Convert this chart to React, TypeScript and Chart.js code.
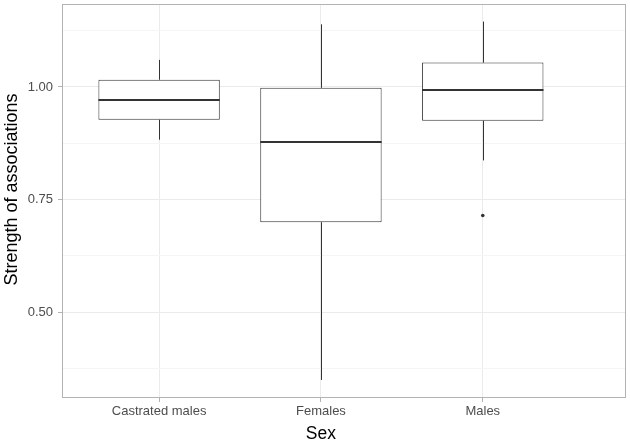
import React, { useEffect, useRef } from 'react';
import { Chart, registerables } from 'chart.js';

Chart.register(...registerables);

// ---- data ----
const categories = ['Castrated males', 'Females', 'Males'];
const whiskerLow = [0.883, 0.35, 0.837];
const q1 = [0.927, 0.7, 0.925];
const median = [0.972, 0.877, 0.993];
const q3 = [1.016, 0.998, 1.054];
const whiskerHigh = [1.06, 1.139, 1.145];
const outlierGroups = [2];
const outlierValues = [0.715];
const yMajorTicks = [0.5, 0.75, 1.0];
const yMinorTicks = [0.375, 0.625, 0.875, 1.125];
const yRange = [0.31, 1.184];
const xRange = [-0.6, 2.885];
const xTitle = 'Sex';
const yTitle = 'Strength of associations';

const FONT = "'Liberation Sans', Arial, Helvetica, sans-serif";
const LINE = '#333333';

const boxPlugin = {
  id: 'boxExtras',
  afterDatasetsDraw(chart: any) {
    const { ctx, chartArea } = chart;
    const xs = chart.scales.x;
    const ys = chart.scales.y;
    ctx.save();
    ctx.strokeStyle = LINE;
    // whiskers
    ctx.lineWidth = 1;
    categories.forEach((_, i) => {
      const px = Math.round(xs.getPixelForValue(i)) + 0.5;
      ctx.beginPath();
      ctx.moveTo(px, ys.getPixelForValue(q3[i]));
      ctx.lineTo(px, ys.getPixelForValue(whiskerHigh[i]));
      ctx.moveTo(px, ys.getPixelForValue(q1[i]));
      ctx.lineTo(px, ys.getPixelForValue(whiskerLow[i]));
      ctx.stroke();
    });
    // medians
    const meta = chart.getDatasetMeta(0);
    ctx.lineWidth = 2;
    categories.forEach((_, i) => {
      const bar = meta.data[i];
      const half = bar.width / 2;
      const py = Math.round(ys.getPixelForValue(median[i]));
      ctx.beginPath();
      ctx.moveTo(bar.x - half, py);
      ctx.lineTo(bar.x + half, py);
      ctx.stroke();
    });
    // panel border
    ctx.strokeStyle = '#B3B3B3';
    ctx.lineWidth = 1;
    ctx.strokeRect(
      chartArea.left + 0.5,
      chartArea.top + 0.5,
      chartArea.right - chartArea.left - 1,
      chartArea.bottom - chartArea.top - 1
    );
    ctx.restore();
  },
  afterDraw(chart: any) {
    const { ctx, chartArea } = chart;
    const xs = chart.scales.x;
    ctx.save();
    ctx.fillStyle = '#000000';
    ctx.textAlign = 'center';
    ctx.textBaseline = 'alphabetic';
    ctx.font = `17.5px ${FONT}`;
    ctx.fillText(xTitle, xs.getPixelForValue(1), 439);
    ctx.font = `18px ${FONT}`;
    ctx.translate(16.5, (chartArea.top + chartArea.bottom) / 2 - 11.5);
    ctx.rotate(-Math.PI / 2);
    ctx.fillText(yTitle, 0, 0);
    ctx.restore();
  },
};

export default function App() {
  const canvasRef = useRef<HTMLCanvasElement | null>(null);

  useEffect(() => {
    document.body.style.margin = '0';
    const canvas = canvasRef.current;
    if (!canvas) return;
    const allY = [...yMajorTicks, ...yMinorTicks].sort((a, b) => a - b);
    const isMajor = (v: number) => yMajorTicks.some((m) => Math.abs(m - v) < 1e-9);

    const chart = new Chart(canvas, {
      type: 'bar',
      data: {
        datasets: [
          {
            type: 'bar',
            data: categories.map((_, i) => ({ x: i, y: [q1[i], q3[i]] })) as any,
            backgroundColor: '#FFFFFF',
            borderColor: LINE,
            borderWidth: 1,
            borderSkipped: false,
            categoryPercentage: 0.75,
            barPercentage: 1,
          } as any,
          {
            type: 'scatter',
            data: outlierValues.map((v, i) => ({ x: outlierGroups[i], y: v })),
            backgroundColor: LINE,
            borderColor: LINE,
            pointRadius: 1.8,
            borderWidth: 0,
          } as any,
        ],
      },
      options: {
        animation: false,
        responsive: false,
        devicePixelRatio: 1,
        layout: { padding: { top: 3, right: 4, left: 0, bottom: 0 } },
        plugins: {
          legend: { display: false },
          tooltip: { enabled: false },
          title: { display: false },
        },
        scales: {
          x: {
            type: 'linear',
            offset: false,
            min: xRange[0],
            max: xRange[1],
            afterBuildTicks: (scale: any) => {
              scale.ticks = categories.map((_, i) => ({ value: i }));
            },
            afterFit: (scale: any) => {
              scale.height = 45;
              scale.paddingLeft = 0;
              scale.paddingRight = 0;
            },
            ticks: {
              autoSkip: false,
              maxRotation: 0,
              minRotation: 0,
              padding: 2,
              color: '#4D4D4D',
              font: { family: FONT, size: 13 },
              callback: (v: any) => categories[Math.round(Number(v))] ?? '',
            },
            grid: {
              offset: false,
              color: '#EBEBEB',
              lineWidth: 1,
              tickColor: '#B3B3B3',
              tickLength: 4,
              drawTicks: true,
            },
            border: { display: false },
          },
          y: {
            type: 'linear',
            min: yRange[0],
            max: yRange[1],
            afterBuildTicks: (scale: any) => {
              scale.ticks = allY.map((v) => ({ value: v }));
            },
            afterFit: (scale: any) => {
              scale.width = 62;
              scale.paddingTop = 0;
              scale.paddingBottom = 0;
            },
            ticks: {
              autoSkip: false,
              padding: 5,
              color: '#4D4D4D',
              font: { family: FONT, size: 13 },
              callback: (v: any) => (isMajor(Number(v)) ? Number(v).toFixed(2) : ''),
            },
            grid: {
              color: (ctx: any) => (isMajor(ctx.tick?.value) ? '#EBEBEB' : '#F5F5F5'),
              lineWidth: 1,
              tickColor: (ctx: any) => (isMajor(ctx.tick?.value) ? '#B3B3B3' : 'rgba(0,0,0,0)'),
              tickLength: 4,
              drawTicks: true,
            },
            border: { display: false },
          },
        },
      },
      plugins: [boxPlugin],
    });
    return () => chart.destroy();
  }, []);

  return (
    <div style={{ position: 'absolute', left: 0, top: 0, width: 630, height: 443, background: '#FFFFFF' }}>
      <canvas ref={canvasRef} width={630} height={443} style={{ display: 'block' }} />
    </div>
  );
}
